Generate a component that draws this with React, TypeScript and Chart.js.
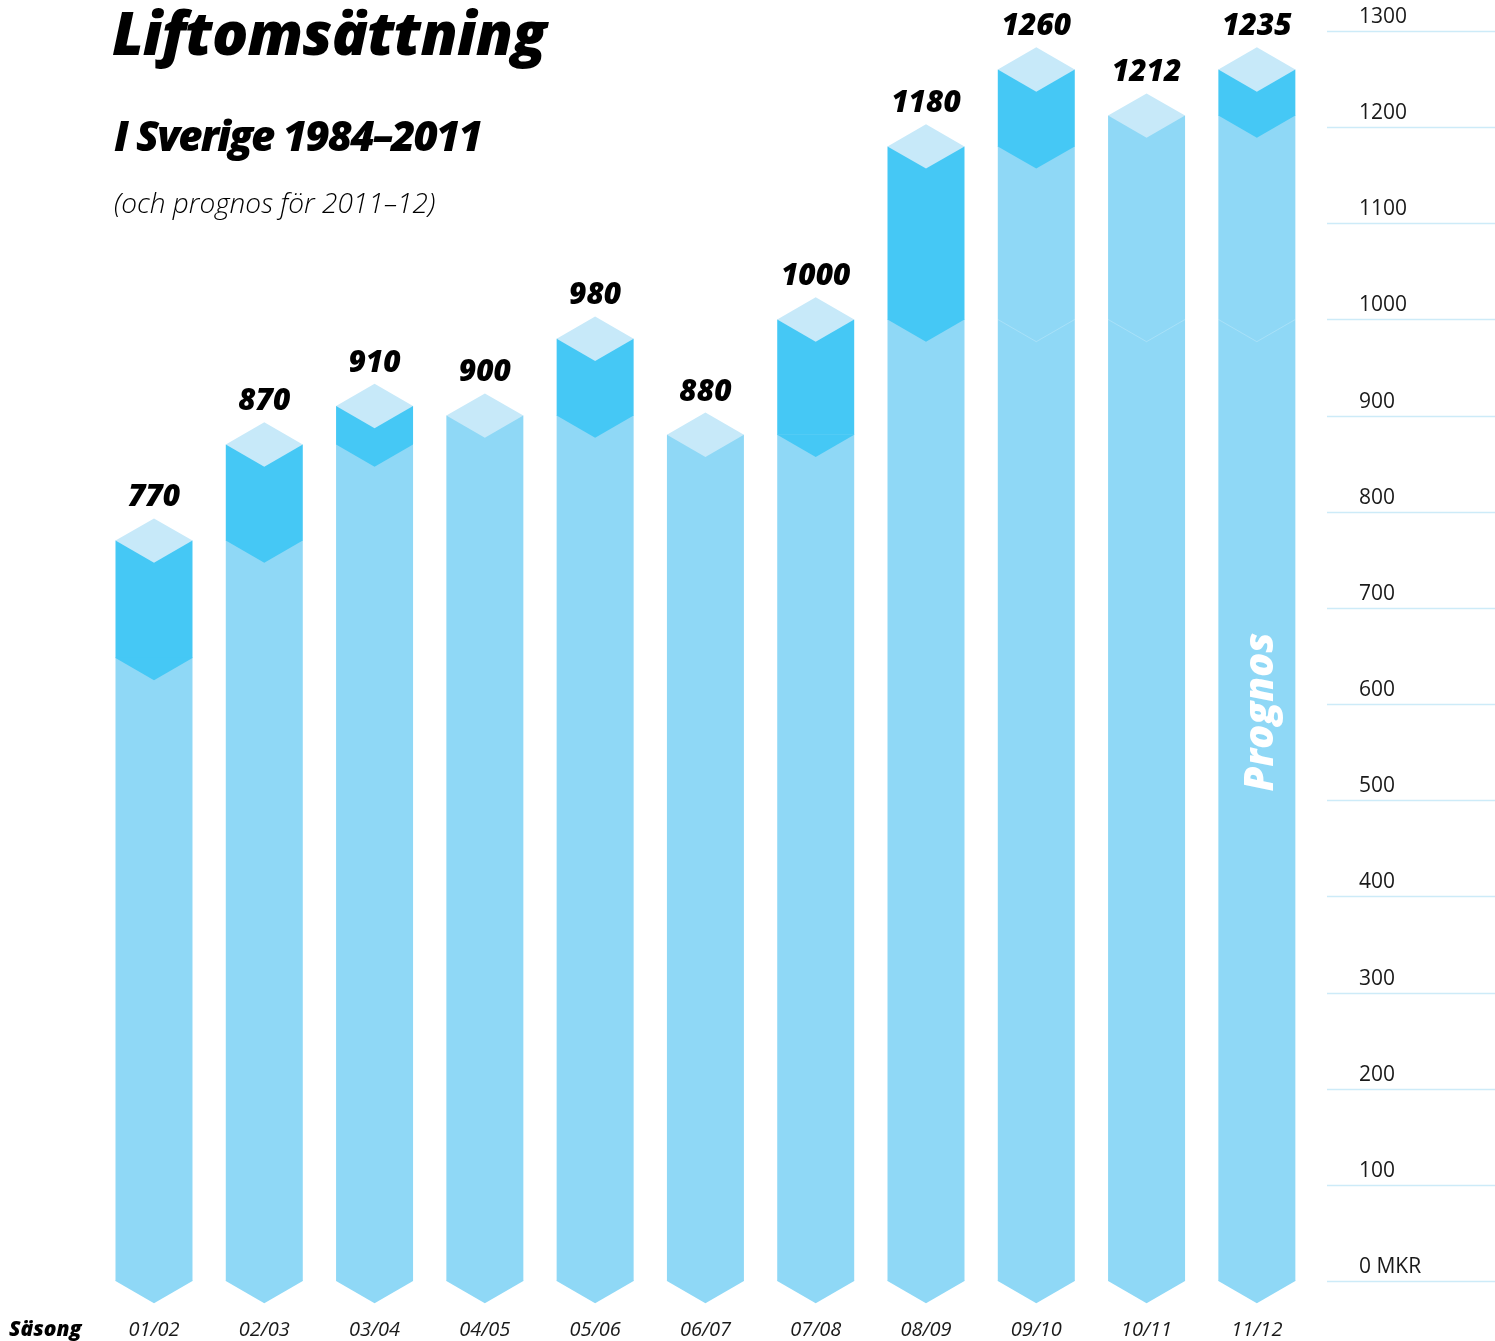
import React, { useEffect, useRef } from "react";
import { Chart, registerables } from "chart.js";

Chart.register(...registerables);

// ---- data ----
const seasons = ["01/02", "02/03", "03/04", "04/05", "05/06", "06/07", "07/08", "08/09", "09/10", "10/11", "11/12"];
const valueLabels = ["770", "870", "910", "900", "980", "880", "1000", "1180", "1260", "1212", "1235"];
const barTop = [770, 870, 910, 900, 980, 880, 1000, 1180, 1260, 1212, 1260];
const previousLevel = [648, 770, 870, 900, 900, 880, 880, 1000, 1180, 1212, 1212];
const markLevel = 1000;
const yMax = 1300;
const yStep = 100;

const LIGHT = "#8fd8f6";
const DARK = "#45c8f5";
const CAP = "#c7e9f9";
const GRID = "#cdebf8";
const TEXT = "#1a1a1a";

const isoPlugin = {
  id: "isoBars",
  beforeDraw(chart: any) {
    const ctx = chart.ctx;
    const y = chart.scales.y;
    ctx.save();
    ctx.strokeStyle = GRID;
    ctx.lineWidth = 1.5;
    y.ticks.forEach((t: any) => {
      const py = Math.round(y.getPixelForValue(t.value)) + 0.5;
      ctx.beginPath();
      ctx.moveTo(1327, py);
      ctx.lineTo(chart.width, py);
      ctx.stroke();
    });
    ctx.restore();
  },
  afterDatasetsDraw(chart: any) {
    const ctx = chart.ctx;
    const y = chart.scales.y;
    const m0 = chart.getDatasetMeta(0);
    ctx.save();
    const tri = (L: number, R: number, cx: number, py: number, d: number, color: string) => {
      ctx.fillStyle = color;
      ctx.beginPath();
      ctx.moveTo(L, py - 0.5);
      ctx.lineTo(R, py - 0.5);
      ctx.lineTo(R, py);
      ctx.lineTo(cx, py + d);
      ctx.lineTo(L, py);
      ctx.closePath();
      ctx.fill();
    };
    seasons.forEach((_, i) => {
      const el = m0.data[i];
      const cx = el.x;
      const w = el.width;
      const L = cx - w / 2;
      const R = cx + w / 2;
      const d = (w / 2) * Math.tan(Math.PI / 6);
      const y0 = y.getPixelForValue(0);
      const yTop = y.getPixelForValue(barTop[i]);
      const yPrev = y.getPixelForValue(Math.min(previousLevel[i], barTop[i]));
      tri(L, R, cx, y0, d, LIGHT);
      if (previousLevel[i] < barTop[i]) tri(L, R, cx, yPrev, d, DARK);
      if (previousLevel[i] > markLevel) {
        const ym = y.getPixelForValue(markLevel);
        ctx.strokeStyle = "rgba(255,255,255,0.22)";
        ctx.lineWidth = 1;
        ctx.beginPath();
        ctx.moveTo(L, ym);
        ctx.lineTo(cx, ym + d);
        ctx.lineTo(R, ym);
        ctx.stroke();
      }
      ctx.fillStyle = CAP;
      ctx.beginPath();
      ctx.moveTo(L, yTop);
      ctx.lineTo(cx, yTop - d);
      ctx.lineTo(R, yTop);
      ctx.lineTo(cx, yTop + d);
      ctx.closePath();
      ctx.fill();
      ctx.fillStyle = "#000";
      ctx.font = 'italic 800 30px "Open Sans"';
      ctx.textAlign = "center";
      ctx.textBaseline = "alphabetic";
      ctx.fillText(valueLabels[i], cx, yTop - d - 12);
    });
    const last = m0.data[seasons.length - 1];
    ctx.save();
    ctx.translate(last.x + 16, 712);
    ctx.rotate(-Math.PI / 2);
    ctx.fillStyle = "#ffffff";
    ctx.font = 'italic 800 40px "Open Sans"';
    ctx.textAlign = "center";
    ctx.textBaseline = "alphabetic";
    ctx.fillText("Prognos", 0, 0);
    ctx.restore();
    ctx.restore();
  },
};

export default function App() {
  const ref = useRef<HTMLCanvasElement | null>(null);
  useEffect(() => {
    if (!ref.current) return;
    const chart = new Chart(ref.current, {
      type: "bar",
      data: {
        labels: seasons,
        datasets: [
          {
            label: "base",
            data: previousLevel.map((p, i) => Math.min(p, barTop[i])),
            backgroundColor: LIGHT,
            borderWidth: 0,
          },
          {
            label: "increase",
            data: barTop.map((v, i) => Math.max(0, v - previousLevel[i])),
            backgroundColor: DARK,
            borderWidth: 0,
          },
        ],
      },
      options: {
        responsive: false,
        animation: false,
        layout: { padding: { left: 98.85, top: 31, right: 0, bottom: 0 } },
        datasets: { bar: { barPercentage: 1, categoryPercentage: 77 / 110.3 } },
        plugins: {
          legend: { display: false },
          tooltip: { enabled: false },
          title: { display: false },
        },
        scales: {
          x: {
            stacked: true,
            grid: { display: false },
            border: { display: false },
            ticks: {
              padding: 29,
              color: TEXT,
              font: { family: "Open Sans", size: 20, style: "italic" },
            },
            afterFit: (s: any) => {
              s.height = 60;
              s.paddingLeft = 0;
              s.paddingRight = 0;
            },
          },
          y: {
            stacked: true,
            position: "right",
            min: 0,
            max: yMax,
            grid: { display: false },
            border: { display: false },
            ticks: {
              stepSize: yStep,
              padding: 39,
              labelOffset: -14,
              color: TEXT,
              font: { family: "Open Sans", size: 21 },
              callback: (v: any) => (Number(v) === 0 ? "0 MKR" : String(v)),
            },
            afterFit: (s: any) => {
              s.width = 183;
              s.paddingTop = 0;
              s.paddingBottom = 0;
            },
          },
        },
      },
      plugins: [isoPlugin],
    } as any);
    return () => chart.destroy();
  }, []);

  const base: React.CSSProperties = {
    position: "absolute",
    fontFamily: '"Open Sans", sans-serif',
    fontStyle: "italic",
    color: "#000",
    whiteSpace: "nowrap",
    margin: 0,
  };

  return (
    <div style={{ position: "absolute", left: 0, top: 0, width: 1495, height: 1341, background: "#fff" }}>
      <canvas ref={ref} width={1495} height={1341} style={{ display: "block", width: 1495, height: 1341 }} />
      <div style={{ ...base, left: 112, top: 2, fontSize: 60, lineHeight: "60px", fontWeight: 800, letterSpacing: -0.8 }}>
        Liftomsättning
      </div>
      <div style={{ ...base, left: 114, top: 114, fontSize: 42, lineHeight: "42px", fontWeight: 800, letterSpacing: -1.85 }}>
        I Sverige 1984–2011
      </div>
      <div style={{ ...base, left: 114, top: 188, fontSize: 28, lineHeight: "28px", fontWeight: 300, letterSpacing: 0 }}>
        (och prognos för 2011–12)
      </div>
      <div style={{ ...base, left: 9, top: 1318, fontSize: 21, lineHeight: "21px", fontWeight: 800 }}>Säsong</div>
    </div>
  );
}
